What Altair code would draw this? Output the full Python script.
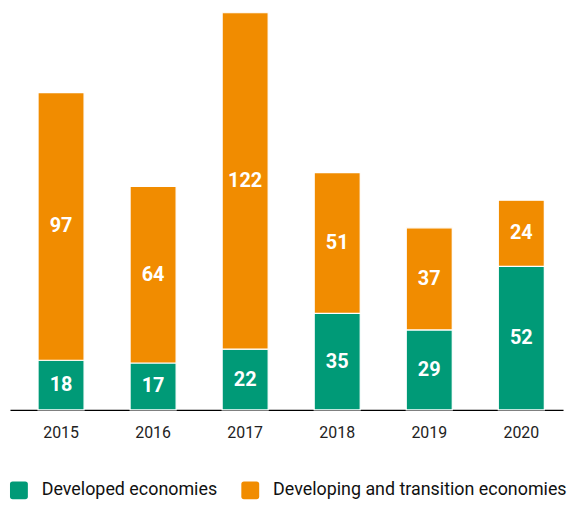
import altair as alt
import pandas as pd

years = ["2015", "2016", "2017", "2018", "2019", "2020"]
developed = [18, 17, 22, 35, 29, 52]
developing = [97, 64, 122, 51, 37, 24]
series = ["Developed economies", "Developing and transition economies"]
colors = ["#009a77", "#f18c00"]

rows = []
for y, d, g in zip(years, developed, developing):
    rows.append({"year": y, "group": series[0], "value": d, "order": 0})
    rows.append({"year": y, "group": series[1], "value": g, "order": 1})
df = pd.DataFrame(rows)

FONT = "Roboto"

base = alt.Chart(df).transform_stack(
    stack="value", groupby=["year"], as_=["y0", "y1"],
    sort=[alt.SortField("order", order="ascending")]
).transform_calculate(mid="(datum.y0 + datum.y1) / 2")

yscale = alt.Scale(domain=[0, 144], nice=False, zero=True)

xenc = alt.X("year:N", title=None, sort=years,
             scale=alt.Scale(paddingInner=0.5, paddingOuter=0.254, align=0.6),
             axis=alt.Axis(labelAngle=0, ticks=False, domainColor="#000000",
                           domainWidth=1.2, labelFont=FONT, labelFontSize=16,
                           labelColor="#222222", labelPadding=15, grid=False))

bars = base.mark_bar(stroke="white", strokeWidth=1.2).encode(
    x=xenc,
    y=alt.Y("y0:Q", scale=yscale, axis=None),
    y2="y1:Q",
    color=alt.Color("group:N", sort=series,
                    scale=alt.Scale(domain=series, range=colors),
                    legend=alt.Legend(title=None, orient="none", direction="horizontal",
                                      legendX=0, legendY=472,
                                      symbolType="M-1,-0.7Q-1,-1,-0.7,-1L0.7,-1Q1,-1,1,-0.7L1,0.7Q1,1,0.7,1L-0.7,1Q-1,1,-1,0.7Z",
                                      symbolSize=324, symbolStrokeWidth=0,
                                      symbolOpacity=1,
                                      labelFont=FONT, labelFontSize=18,
                                      labelColor="#111111", columnPadding=24,
                                      labelOffset=14, labelLimit=400)),
)

labels = base.mark_text(color="white", font=FONT, fontWeight="bold",
                        fontSize=20, baseline="middle").encode(
    x=alt.X("year:N", sort=years),
    y=alt.Y("mid:Q", scale=yscale, axis=None),
    text=alt.Text("value:Q"),
)

chart = alt.layer(bars, labels).properties(
    width=557, height=400,
    padding={"left": 2, "top": 2, "right": 0, "bottom": 0},
).configure(background="white", view=alt.ViewConfig(stroke=None))

chart.save("out.html", embed_options={"renderer": "svg", "actions": False})
